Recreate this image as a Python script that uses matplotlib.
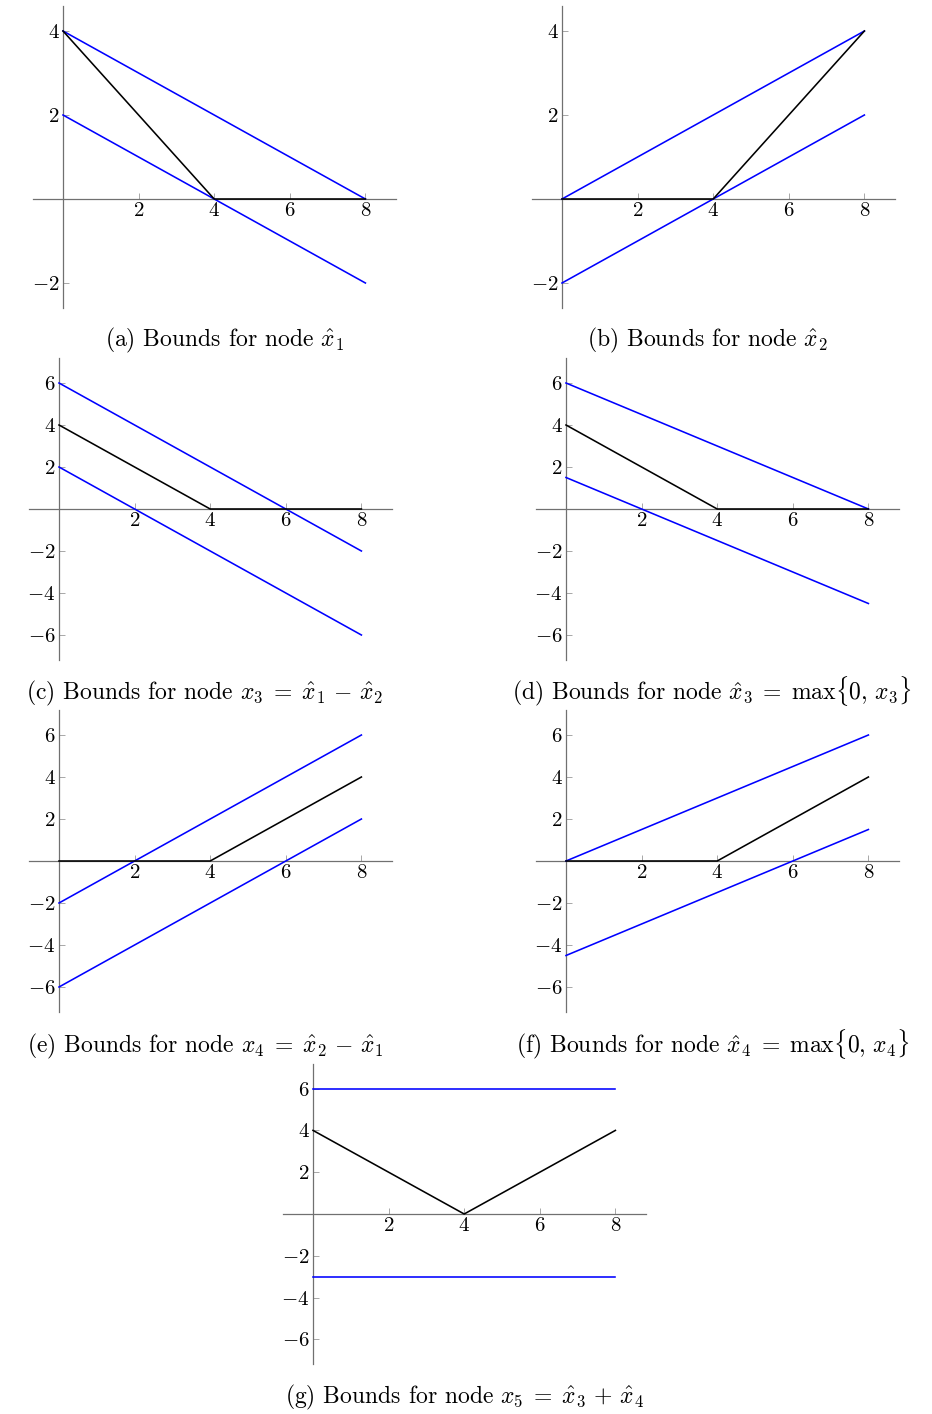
import matplotlib
matplotlib.use('Agg')
import matplotlib.pyplot as plt

plt.rcParams['font.family'] = ['cmr10', 'DejaVu Serif']
plt.rcParams['mathtext.fontset'] = 'cm'
plt.rcParams['axes.formatter.use_mathtext'] = True

W, H = 932, 1414

# piecewise linear bounds, x from 0 to 8
xs = [0, 4, 8]
x_ends = [0, 8]

# (a) x1_hat
a_true = [4, 0, 0]
a_up = [4, 0]
a_lo = [2, -2]
# (b) x2_hat
b_true = [0, 0, 4]
b_up = [0, 4]
b_lo = [-2, 2]
# (c) x3
c_true = [4, 0, 0]
c_up = [6, -2]
c_lo = [2, -6]
# (d) x3_hat
d_true = [4, 0, 0]
d_up = [6, 0]
d_lo = [1.5, -4.5]
# (e) x4
e_true = [0, 0, 4]
e_up = [-2, 6]
e_lo = [-6, 2]
# (f) x4_hat
f_true = [0, 0, 4]
f_up = [0, 6]
f_lo = [-4.5, 1.5]
# (g) x5
g_true = [4, 0, 4]
g_up = [6, 6]
g_lo = [-3, -3]

xticks = [2, 4, 6, 8]
yticks_small = [-2, 2, 4]
yticks_big = [-6, -4, -2, 2, 4, 6]

captions = [
    r'(a) Bounds for node $\hat{x}_1$',
    r'(b) Bounds for node $\hat{x}_2$',
    r'(c) Bounds for node $x_3 \;=\; \hat{x}_1 \,-\, \hat{x}_2$',
    r'(d) Bounds for node $\hat{x}_3 \;=\; \max\{0,\, x_3\}$',
    r'(e) Bounds for node $x_4 \;=\; \hat{x}_2 \,-\, \hat{x}_1$',
    r'(f) Bounds for node $\hat{x}_4 \;=\; \max\{0,\, x_4\}$',
    r'(g) Bounds for node $x_5 \;=\; \hat{x}_3 \,+\, \hat{x}_4$',
]

fig = plt.figure(figsize=(W / 100, H / 100), dpi=100)


def panel(ox, oy, ux, uy, ylim, yt, true, up, lo, cap, cx, cy):
    xlim = (-0.8, 8.8)
    left = ox + xlim[0] * ux
    right = ox + xlim[1] * ux
    top = oy - ylim[1] * uy
    bottom = oy - ylim[0] * uy
    ax = fig.add_axes([left / W, 1 - bottom / H, (right - left) / W, (bottom - top) / H])
    ax.set_xlim(*xlim)
    ax.set_ylim(*ylim)
    ax.plot(x_ends, up, color='#0000ff', lw=1.15, zorder=3)
    ax.plot(x_ends, lo, color='#0000ff', lw=1.15, zorder=3)
    ax.plot(xs, true, color='black', lw=1.15, zorder=4)
    for s in ['top', 'right']:
        ax.spines[s].set_visible(False)
    for s in ['left', 'bottom']:
        ax.spines[s].set_position(('data', 0))
        ax.spines[s].set_color('#707070')
        ax.spines[s].set_linewidth(0.9)
    ax.set_xticks(xticks)
    ax.set_xticklabels(['$%d$' % v for v in xticks])
    ax.set_yticks(yt)
    ax.set_yticklabels(['$%d$' % v for v in yt])
    ax.tick_params(direction='in', length=4.5, width=0.6, color='#999999',
                   labelsize=15, pad=2.5)
    ax.patch.set_visible(False)
    fig.text(cx / W, 1 - cy / H, cap, ha='center', va='baseline', fontsize=17)
    return ax


ux = 37.8
panel(63, 199, ux, 42, (-2.6, 4.6), yticks_small, a_true, a_up, a_lo, captions[0], 224, 346)
panel(562, 199, ux, 42, (-2.6, 4.6), yticks_small, b_true, b_up, b_lo, captions[1], 707, 346)
panel(59, 509, ux, 21, (-7.2, 7.2), yticks_big, c_true, c_up, c_lo, captions[2], 205, 699)
panel(566, 509, ux, 21, (-7.2, 7.2), yticks_big, d_true, d_up, d_lo, captions[3], 712, 699)
panel(59, 861, ux, 21, (-7.2, 7.2), yticks_big, e_true, e_up, e_lo, captions[4], 205, 1052)
panel(566, 861, ux, 21, (-7.2, 7.2), yticks_big, f_true, f_up, f_lo, captions[5], 713, 1052)
panel(313, 1214, ux, 20.9, (-7.2, 7.2), yticks_big, g_true, g_up, g_lo, captions[6], 465, 1403)

fig.savefig('out.png', dpi=100)
